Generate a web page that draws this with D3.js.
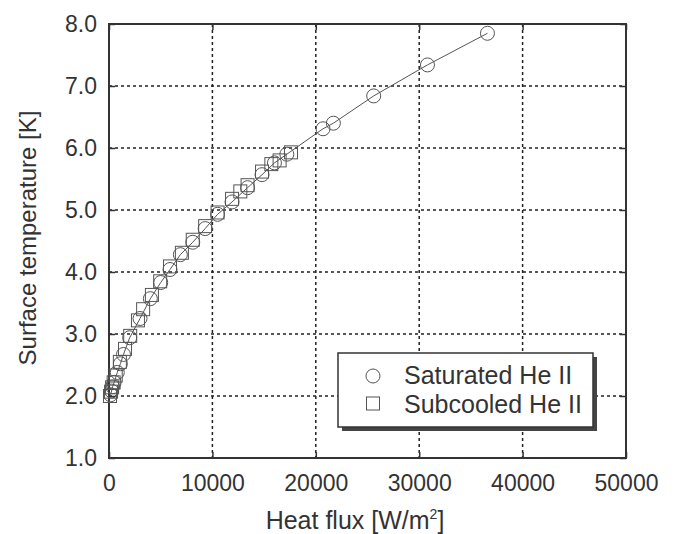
<!DOCTYPE html>
<html>
<head>
<meta charset="utf-8">
<script src="https://cdn.jsdelivr.net/npm/d3@7"></script>
<style>
  body { margin: 0; background: #fff; }
  text { font-family: "Liberation Sans", Arial, sans-serif; fill: #333; }
</style>
</head>
<body>
<script>
// heat flux [W/m2] vs surface temperature [K]
var satFlux = [150, 250, 350, 500, 800, 1100, 1400, 2000, 3000, 4000, 5000, 5900, 6900, 8100,
               9300, 10500, 11900, 13400, 14800, 16000, 17200, 20700, 21700, 25600, 30800, 36600];
var satTemp = [2.02, 2.08, 2.15, 2.22, 2.38, 2.52, 2.67, 2.94, 3.25, 3.57, 3.83, 4.04, 4.28, 4.48,
               4.70, 4.93, 5.13, 5.36, 5.57, 5.76, 5.90, 6.31, 6.40, 6.84, 7.34, 7.85];

var subFlux = [100, 200, 300, 450, 650, 1050, 1550, 2050, 2800, 3300, 4150, 4950, 5900, 7050,
               8100, 9300, 10500, 11900, 12700, 13400, 14800, 15700, 16500, 17600];
var subTemp = [2.00, 2.07, 2.14, 2.22, 2.33, 2.55, 2.76, 2.97, 3.22, 3.40, 3.63, 3.85, 4.09, 4.31,
               4.52, 4.74, 4.96, 5.18, 5.30, 5.40, 5.62, 5.74, 5.80, 5.93];

var xTicks = [0, 10000, 20000, 30000, 40000, 50000];
var yTicks = [1, 2, 3, 4, 5, 6, 7, 8];
var seriesNames = ["Saturated He II", "Subcooled He II"];

var W = 678, H = 534;
var m = {left: 109, right: 626, top: 24, bottom: 458};

var svg = d3.select("body").append("svg")
    .attr("width", W)
    .attr("height", H);

var x = d3.scaleLinear().domain([0, 50000]).range([m.left, m.right]);
var y = d3.scaleLinear().domain([1, 8]).range([m.bottom, m.top]);

// grid
var grid = svg.append("g")
    .attr("stroke", "#222")
    .attr("stroke-width", 1.5)
    .attr("stroke-dasharray", "3,3");

grid.selectAll("line.vx")
    .data(xTicks.slice(1, -1))
    .enter()
    .append("line")
    .attr("x1", function(d) { return x(d); })
    .attr("x2", function(d) { return x(d); })
    .attr("y1", m.top)
    .attr("y2", m.bottom);

grid.selectAll("line.hy")
    .data(yTicks.slice(1, -1))
    .enter()
    .append("line")
    .attr("x1", m.left)
    .attr("x2", m.right)
    .attr("y1", function(d) { return y(d); })
    .attr("y2", function(d) { return y(d); });

// axes, ticks inward on all four sides
function styleAxis(g) {
    g.select(".domain").remove();
    g.selectAll(".tick line").attr("stroke", "#333").attr("stroke-width", 1.5);
    g.selectAll(".tick text")
        .attr("font-size", "23px")
        .attr("fill", "#333");
}

svg.append("g")
    .attr("transform", "translate(0," + m.bottom + ")")
    .call(d3.axisBottom(x).tickValues(xTicks).tickFormat(d3.format("d")).tickSizeInner(-6).tickPadding(17))
    .call(styleAxis);

svg.append("g")
    .attr("transform", "translate(" + m.left + ",0)")
    .call(d3.axisLeft(y).tickValues(yTicks).tickFormat(d3.format(".1f")).tickSizeInner(-6).tickPadding(12))
    .call(styleAxis);

svg.append("g")
    .attr("transform", "translate(0," + m.top + ")")
    .call(d3.axisTop(x).tickValues(xTicks).tickFormat("").tickSizeInner(-6))
    .call(styleAxis);

svg.append("g")
    .attr("transform", "translate(" + m.right + ",0)")
    .call(d3.axisRight(y).tickValues(yTicks).tickFormat("").tickSizeInner(-6))
    .call(styleAxis);

svg.append("rect")
    .attr("x", m.left)
    .attr("y", m.top)
    .attr("width", m.right - m.left)
    .attr("height", m.bottom - m.top)
    .attr("fill", "none")
    .attr("stroke", "#333")
    .attr("stroke-width", 2);

// data
var sat = satFlux.map(function(q, i) { return [q, satTemp[i]]; });
var sub = subFlux.map(function(q, i) { return [q, subTemp[i]]; });

svg.append("path")
    .datum(sat)
    .attr("d", d3.line().x(function(d) { return x(d[0]); }).y(function(d) { return y(d[1]); }))
    .attr("fill", "none")
    .attr("stroke", "#555")
    .attr("stroke-width", 1);

svg.selectAll("rect.sub")
    .data(sub)
    .enter()
    .append("rect")
    .attr("x", function(d) { return x(d[0]) - 6.5; })
    .attr("y", function(d) { return y(d[1]) - 6.5; })
    .attr("width", 13)
    .attr("height", 13)
    .attr("fill", "none")
    .attr("stroke", "#555")
    .attr("stroke-width", 1);

svg.selectAll("circle.sat")
    .data(sat)
    .enter()
    .append("circle")
    .attr("cx", function(d) { return x(d[0]); })
    .attr("cy", function(d) { return y(d[1]); })
    .attr("r", 7)
    .attr("fill", "none")
    .attr("stroke", "#555")
    .attr("stroke-width", 1);

// legend with drop shadow
var lg = svg.append("g");
lg.append("rect")
    .attr("x", 342).attr("y", 357)
    .attr("width", 255).attr("height", 74)
    .attr("fill", "#444");
lg.append("rect")
    .attr("x", 338).attr("y", 353)
    .attr("width", 255).attr("height", 74)
    .attr("fill", "#fff")
    .attr("stroke", "#333")
    .attr("stroke-width", 1.5);

lg.append("circle")
    .attr("cx", 373).attr("cy", 376).attr("r", 7)
    .attr("fill", "none").attr("stroke", "#555");
lg.append("rect")
    .attr("x", 366.5).attr("y", 397).attr("width", 13).attr("height", 13)
    .attr("fill", "none").attr("stroke", "#555");

lg.selectAll("text")
    .data(seriesNames)
    .enter()
    .append("text")
    .attr("x", 404)
    .attr("y", function(d, i) { return 384 + i * 29; })
    .attr("font-size", "25px")
    .text(function(d) { return d; });

// axis titles
var xt = svg.append("text")
    .attr("x", 355)
    .attr("y", 529)
    .attr("text-anchor", "middle")
    .attr("font-size", "25px");
xt.append("tspan").text("Heat flux [W/m");
xt.append("tspan").attr("font-size", "14px").attr("dy", -10).text("2");
xt.append("tspan").attr("dy", 10).text("]");

svg.append("text")
    .attr("transform", "translate(36,238) rotate(-90)")
    .attr("text-anchor", "middle")
    .attr("font-size", "24px")
    .text("Surface temperature [K]");
</script>
</body>
</html>
